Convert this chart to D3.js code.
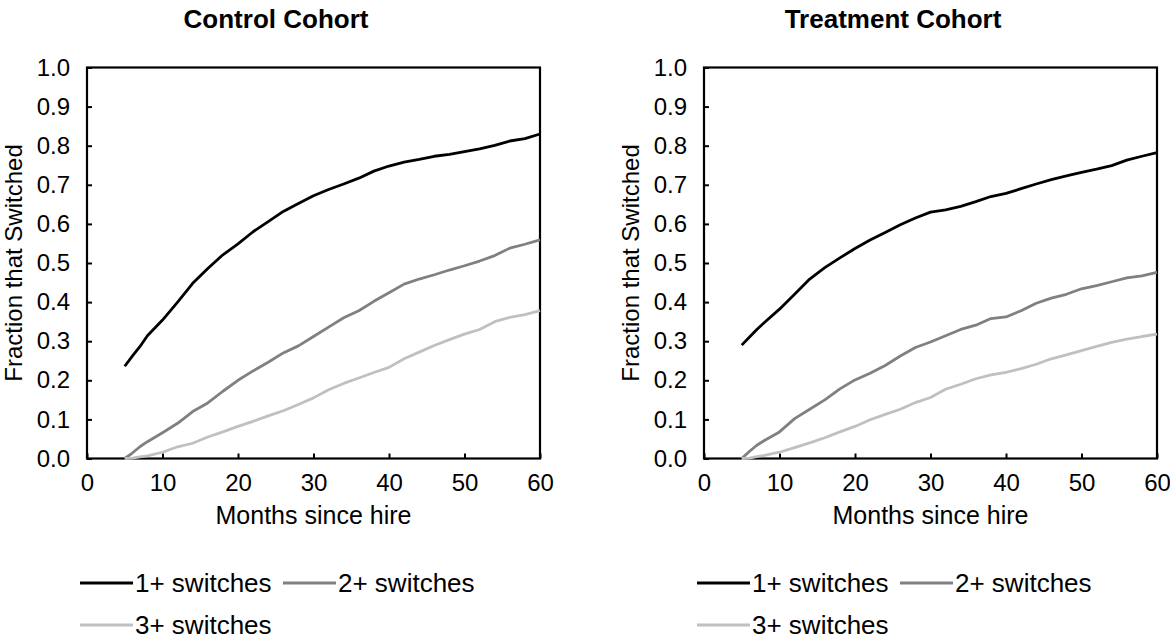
<!DOCTYPE html>
<html>
<head>
<meta charset="utf-8">
<script src="https://cdn.jsdelivr.net/npm/d3@7"></script>
<style>
  body { margin: 0; background: #fff; }
  svg { display: block; font-family: "Liberation Sans", Arial, Helvetica, sans-serif; }
</style>
</head>
<body>
<svg id="chart" width="1170" height="640"></svg>
<script>
const months = [5, 6, 7, 8, 10, 12, 14, 16, 18, 20, 22, 24, 26, 28, 30, 32, 34, 36, 38, 40, 42, 44, 46, 48, 50, 52, 54, 56, 58, 60];

const control1 = [0.236, 0.262, 0.286, 0.314, 0.354, 0.400, 0.448, 0.486, 0.521, 0.549, 0.580, 0.606, 0.632, 0.652, 0.672, 0.688, 0.702, 0.717, 0.735, 0.748, 0.758, 0.765, 0.773, 0.778, 0.785, 0.792, 0.801, 0.812, 0.818, 0.830];
const control2 = [0, 0.014, 0.030, 0.043, 0.066, 0.090, 0.120, 0.142, 0.172, 0.200, 0.224, 0.246, 0.270, 0.288, 0.312, 0.336, 0.360, 0.378, 0.402, 0.424, 0.446, 0.459, 0.470, 0.482, 0.493, 0.505, 0.519, 0.538, 0.548, 0.559];
const control3 = [0, 0.001, 0.004, 0.007, 0.016, 0.030, 0.039, 0.055, 0.068, 0.082, 0.095, 0.109, 0.122, 0.138, 0.155, 0.176, 0.192, 0.206, 0.220, 0.233, 0.255, 0.272, 0.289, 0.304, 0.318, 0.330, 0.350, 0.361, 0.368, 0.378];

const treat1 = [0.290, 0.310, 0.330, 0.348, 0.382, 0.420, 0.459, 0.488, 0.513, 0.537, 0.559, 0.578, 0.598, 0.615, 0.630, 0.636, 0.645, 0.657, 0.670, 0.678, 0.690, 0.702, 0.713, 0.723, 0.732, 0.740, 0.749, 0.763, 0.773, 0.782];
const treat2 = [0, 0.018, 0.034, 0.046, 0.068, 0.102, 0.126, 0.150, 0.178, 0.201, 0.218, 0.238, 0.262, 0.284, 0.298, 0.314, 0.330, 0.341, 0.358, 0.362, 0.378, 0.397, 0.410, 0.420, 0.434, 0.442, 0.452, 0.462, 0.467, 0.476];
const treat3 = [0, 0.001, 0.005, 0.008, 0.016, 0.028, 0.040, 0.053, 0.068, 0.082, 0.099, 0.113, 0.126, 0.143, 0.156, 0.177, 0.190, 0.204, 0.214, 0.220, 0.230, 0.241, 0.255, 0.265, 0.276, 0.287, 0.297, 0.305, 0.312, 0.318];

const seriesNames = ['1+ switches', '2+ switches', '3+ switches'];
const seriesColors = ['#000000', '#808080', '#c0c0c0'];
const xTicks = [0, 10, 20, 30, 40, 50, 60];
const yTicks = [0, 0.1, 0.2, 0.3, 0.4, 0.5, 0.6, 0.7, 0.8, 0.9, 1.0];

const panels = [
  { title: 'Control Cohort', offset: 0, series: [control1, control2, control3] },
  { title: 'Treatment Cohort', offset: 617, series: [treat1, treat2, treat3] }
];

const svg = d3.select('#chart');
const L = 87, R = 540, T = 67.5, B = 458.5;

const x = d3.scaleLinear().domain([0, 60]).range([L, R]);
const y = d3.scaleLinear().domain([0, 1]).range([B, T]);
const line = d3.line().x(d => x(d[0])).y(d => y(d[1]));

panels.forEach(p => {
  const g = svg.append('g').attr('transform', `translate(${p.offset},0)`);

  g.append('text')
    .attr('x', 276).attr('y', 28)
    .attr('text-anchor', 'middle')
    .attr('font-size', 26).attr('font-weight', 'bold')
    .text(p.title);

  // x axis, ticks pointing inward
  const xa = g.append('g')
    .attr('transform', `translate(0,${B})`)
    .call(d3.axisBottom(x).tickValues(xTicks).tickSize(-5).tickSizeOuter(0).tickPadding(15.5));
  xa.select('.domain').remove();
  xa.selectAll('text').attr('font-size', 24).attr('fill', '#000');
  xa.selectAll('line').attr('stroke', '#000').attr('stroke-width', 2);

  const ya = g.append('g')
    .attr('transform', `translate(${L},0)`)
    .call(d3.axisLeft(y).tickValues(yTicks).tickFormat(d3.format('.1f')).tickSize(-5).tickSizeOuter(0).tickPadding(17));
  ya.select('.domain').remove();
  ya.selectAll('text').attr('font-size', 24).attr('fill', '#000');
  ya.selectAll('line').attr('stroke', '#000').attr('stroke-width', 2);

  g.append('rect')
    .attr('x', L).attr('y', T)
    .attr('width', R - L).attr('height', B - T)
    .attr('fill', 'none').attr('stroke', '#000').attr('stroke-width', 2.2);

  p.series.forEach((vals, i) => {
    g.append('path')
      .datum(months.map((m, j) => [m, vals[j]]))
      .attr('d', line)
      .attr('fill', 'none')
      .attr('stroke', seriesColors[i])
      .attr('stroke-width', 2.8)
      .attr('stroke-linejoin', 'round');
  });

  g.append('text')
    .attr('x', (L + R) / 2).attr('y', 524)
    .attr('text-anchor', 'middle')
    .attr('font-size', 25)
    .text('Months since hire');

  g.append('text')
    .attr('transform', `translate(22,${(T + B) / 2}) rotate(-90)`)
    .attr('text-anchor', 'middle')
    .attr('font-size', 24)
    .text('Fraction that Switched');

  // legend: two on the first row, one on the second
  const legendPos = [[80, 583], [283, 583], [80, 625]];
  seriesNames.forEach((name, i) => {
    const [lx, ly] = legendPos[i];
    g.append('line')
      .attr('x1', lx).attr('x2', lx + 53)
      .attr('y1', ly).attr('y2', ly)
      .attr('stroke', seriesColors[i]).attr('stroke-width', 3);
    g.append('text')
      .attr('x', lx + 55).attr('y', ly + 9)
      .attr('font-size', 26)
      .text(name);
  });
});
</script>
</body>
</html>
